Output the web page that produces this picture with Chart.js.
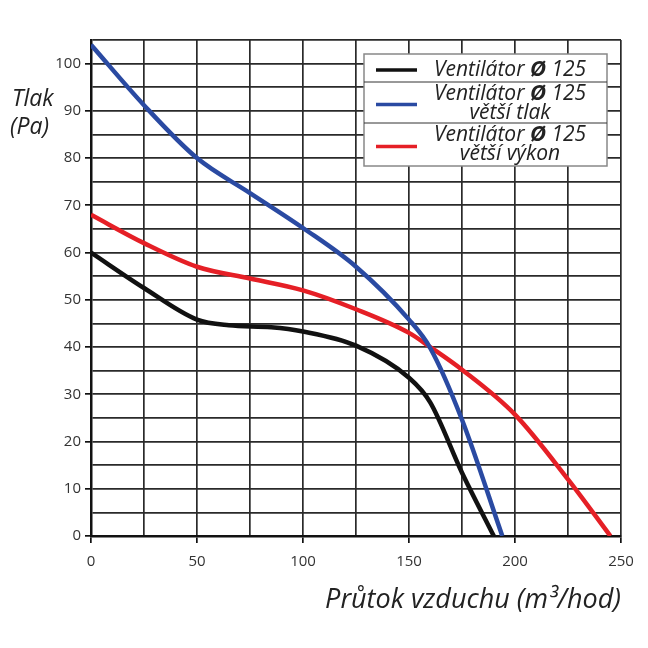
<!DOCTYPE html>
<html>
<head>
<meta charset="utf-8">
<script src="https://cdn.jsdelivr.net/npm/chart.js@4.4.0/dist/chart.umd.min.js"></script>
<style>
  html, body { margin: 0; padding: 0; background: #fff; }
  #wrap { width: 648px; height: 648px; }
</style>
</head>
<body>
<div id="wrap"><canvas id="fanChart" width="648" height="648"></canvas></div>
<script>
// flow (m3/hod) and pressure (Pa)
var flowStd = [0, 25, 50, 65, 85, 100, 125, 150, 160, 175, 190];
var tlakStd = [60, 52.5, 45.8, 44.6, 44.2, 43.3, 40.3, 33.5, 28.3, 13.4, 0];

var flowTlak = [0, 25, 50, 75, 100, 125, 150, 160, 175, 194];
var tlakTlak = [104, 91.2, 80, 72.6, 65.2, 57, 45.8, 39.8, 24.6, 0];

var flowVykon = [0, 25, 50, 75, 100, 125, 150, 160, 175, 200, 225, 245];
var tlakVykon = [68, 62, 57, 54.5, 52, 48, 43, 40, 35.2, 25.7, 12, 0];

var seriesLabels = [
  ["Ventilátor Ø 125"],
  ["Ventilátor Ø 125", "větší tlak"],
  ["Ventilátor Ø 125", "větší výkon"]
];
var seriesColors = ["#111111", "#2a4aa2", "#e51f26"];

var xTitle = "Průtok vzduchu (m³/hod)";
var yTitle = ["Tlak", "(Pa)"];

function pts(xs, ys) {
  return xs.map(function (x, i) {
    return { x: x, y: ys[i] };
  });
}

var fontName = "'Open Sans', 'Noto Sans', sans-serif";

// text with a bold Ø, centred on cx
function drawLabelLine(ctx, text, cx, y) {
  var parts = text.split("Ø");
  var normal = "italic 21px " + fontName;
  var bold = "italic bold 22px " + fontName;
  var widths = [];
  var total = 0;
  parts.forEach(function (p, i) {
    ctx.font = normal;
    var w = ctx.measureText(p).width;
    widths.push(w);
    total += w;
    if (i < parts.length - 1) {
      ctx.font = bold;
      total += ctx.measureText("Ø").width;
    }
  });
  var x = cx - total / 2;
  parts.forEach(function (p, i) {
    ctx.font = normal;
    ctx.fillText(p, x, y);
    x += widths[i];
    if (i < parts.length - 1) {
      ctx.font = bold;
      ctx.fillText("Ø", x, y);
      x += ctx.measureText("Ø").width;
    }
  });
}

var extras = {
  id: "extras",
  afterDraw: function (chart) {
    var ctx = chart.ctx;
    ctx.save();
    ctx.fillStyle = "#222";
    ctx.textBaseline = "alphabetic";

    // axis titles
    ctx.font = "italic 23px " + fontName;
    ctx.textAlign = "left";
    ctx.fillText(yTitle[0], 12, 106);
    ctx.fillText(yTitle[1], 10, 134);
    ctx.font = "italic 27px " + fontName;
    ctx.textAlign = "right";
    ctx.fillText(xTitle, 621, 608);

    // legend box
    var bx = 364, by = 54, bw = 243;
    var rows = [[54, 82], [82, 123], [123, 166]];
    ctx.fillStyle = "#fff";
    ctx.fillRect(bx, by, bw, 112);
    ctx.strokeStyle = "#888";
    ctx.lineWidth = 1.5;
    ctx.strokeRect(bx, by, bw, 112);
    ctx.strokeStyle = "#333";
    ctx.lineWidth = 1;
    [82, 123].forEach(function (yy) {
      ctx.beginPath();
      ctx.moveTo(bx, yy);
      ctx.lineTo(bx + bw, yy);
      ctx.stroke();
    });
    ctx.textAlign = "left";
    seriesLabels.forEach(function (lines, i) {
      var top = rows[i][0], bot = rows[i][1];
      var mid = (top + bot) / 2;
      ctx.strokeStyle = seriesColors[i];
      ctx.lineWidth = 3.5;
      ctx.beginPath();
      ctx.moveTo(376, mid + 2);
      ctx.lineTo(417, mid + 2);
      ctx.stroke();
      ctx.fillStyle = "#222";
      if (lines.length === 1) {
        drawLabelLine(ctx, lines[0], 510, mid + 8);
      } else {
        drawLabelLine(ctx, lines[0], 510, top + 18);
        drawLabelLine(ctx, lines[1], 510, top + 37);
      }
    });
    ctx.restore();
  }
};

function mkSet(label, data, color) {
  return {
    label: label,
    data: data,
    borderColor: color,
    backgroundColor: color,
    borderWidth: 4.5,
    pointRadius: 0,
    fill: false,
    cubicInterpolationMode: "monotone"
  };
}

var ctx = document.getElementById("fanChart").getContext("2d");
var fanChart = new Chart(ctx, {
  type: "line",
  data: {
    datasets: [
      mkSet(seriesLabels[0].join(" "), pts(flowStd, tlakStd), seriesColors[0]),
      mkSet(seriesLabels[1].join(" "), pts(flowTlak, tlakTlak), seriesColors[1]),
      mkSet(seriesLabels[2].join(" "), pts(flowVykon, tlakVykon), seriesColors[2])
    ]
  },
  options: {
    responsive: false,
    animation: false,
    layout: { padding: { left: 0, right: 27, top: 40, bottom: 0 } },
    plugins: {
      legend: { display: false },
      tooltip: { enabled: false }
    },
    scales: {
      x: {
        type: "linear",
        min: 0,
        max: 250,
        border: { display: true, color: "#111", width: 2.5 },
        grid: {
          color: "#2a2a2a",
          lineWidth: 1.7,
          tickLength: 7,
          tickColor: function (c) {
            return c.tick && c.tick.value % 50 === 0 ? "#111" : "rgba(0,0,0,0)";
          }
        },
        ticks: {
          stepSize: 25,
          maxRotation: 0,
          autoSkip: false,
          padding: 10,
          color: "#333",
          font: { family: fontName, size: 15 },
          callback: function (v) {
            return v % 50 === 0 ? v : "";
          }
        },
        afterFit: function (scale) {
          scale.height = 112;
        }
      },
      y: {
        min: 0,
        max: 105,
        border: { display: true, color: "#111", width: 2.5 },
        grid: {
          color: "#2a2a2a",
          lineWidth: 1.7,
          tickLength: 6,
          tickColor: function (c) {
            return c.tick && c.tick.value % 10 === 0 ? "#111" : "rgba(0,0,0,0)";
          }
        },
        ticks: {
          stepSize: 5,
          autoSkip: false,
          padding: 4,
          color: "#333",
          font: { family: fontName, size: 15 },
          callback: function (v) {
            return v % 10 === 0 ? v : "";
          }
        },
        afterFit: function (scale) {
          scale.width = 91;
        }
      }
    }
  },
  plugins: [extras]
});
</script>
</body>
</html>
